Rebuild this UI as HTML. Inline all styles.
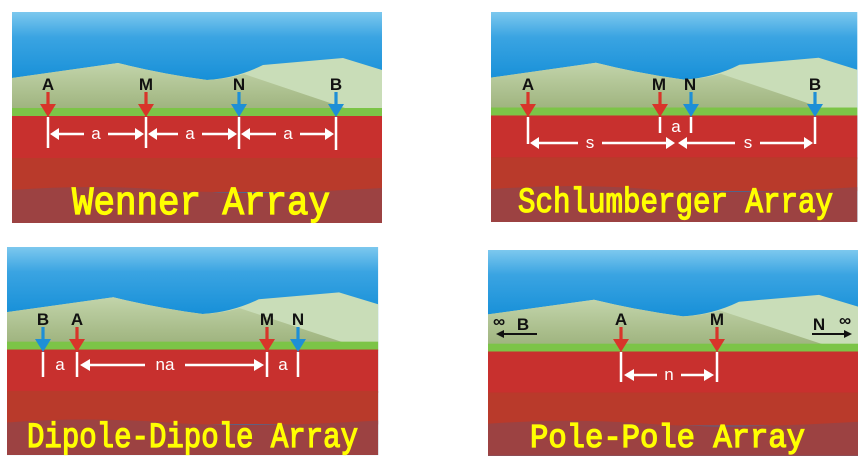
<!DOCTYPE html>
<html><head><meta charset="utf-8"><style>
html,body{margin:0;padding:0;background:#fff;}
svg{display:block;}
.lbl{font-family:"Liberation Sans",sans-serif;font-weight:bold;font-size:17px;fill:#111;text-anchor:middle;}
.dim{font-family:"Liberation Sans",sans-serif;font-size:17px;fill:#fff;text-anchor:middle;}
.title{font-family:"Liberation Mono",monospace;fill:#ffff00;stroke:#ffff00;stroke-width:1.3px;}
</style></head><body>
<svg width="865" height="465" viewBox="0 0 865 465" xmlns="http://www.w3.org/2000/svg">
<defs>
<linearGradient id="sky" x1="0" y1="0" x2="0" y2="1">
<stop offset="0" stop-color="#7cc8ee"/><stop offset="0.12" stop-color="#3aa4e2"/><stop offset="0.4" stop-color="#0a88d4"/><stop offset="1" stop-color="#0a86d2"/>
</linearGradient>
<linearGradient id="dg" x1="0" y1="0" x2="0" y2="1">
<stop offset="0" stop-color="#c2d4aa"/><stop offset="1" stop-color="#9db27c"/>
</linearGradient>
<g id="bg">
<rect x="0" y="0" width="370" height="211" fill="url(#sky)"/>
<path d="M0,66 L106,51 Q150,62 195,68 Q225,66 251,53 L331,46 L370,58 L370,105 L0,105 Z" fill="#c9ddb8"/>
<path d="M0,66 L106,51 Q150,62 195,68 Q215,67 232,62 L345,100 L0,100 Z" fill="url(#dg)"/>
<rect x="0" y="96" width="370" height="9" fill="#7cc447"/>
<rect x="0" y="104" width="370" height="44" fill="#c8302e"/>
<rect x="0" y="146" width="370" height="34" fill="#b93a2b"/>
<path d="M0,178 Q80,172 160,178 T370,176 L370,211 L0,211 Z" fill="#9c4242"/>
</g>
<g id="ar"><rect x="-1.6" y="0" width="3.2" height="13" /><path d="M-8,12 L8,12 L0,25 Z"/></g>
</defs>

<!-- Panel 1 -->
<use href="#bg" transform="translate(12,12)"/>
<text class="lbl" x="48" y="90">A</text><text class="lbl" x="146" y="90">M</text><text class="lbl" x="239" y="90">N</text><text class="lbl" x="336" y="90">B</text>
<use href="#ar" x="48" y="92" fill="#d8352a"/><use href="#ar" x="146" y="92" fill="#d8352a"/><use href="#ar" x="239" y="92" fill="#1e8fd6"/><use href="#ar" x="336" y="92" fill="#1e8fd6"/>
<g stroke="#fff" stroke-width="2.5"><line x1="48" y1="117" x2="48" y2="148"/><line x1="146" y1="117" x2="146" y2="148"/><line x1="239" y1="117" x2="239" y2="149"/><line x1="336" y1="117" x2="336" y2="150"/>
<line x1="56" y1="134" x2="84" y2="134"/><line x1="108" y1="134" x2="138" y2="134"/>
<line x1="154" y1="134" x2="178" y2="134"/><line x1="202" y1="134" x2="231" y2="134"/>
<line x1="247" y1="134" x2="276" y2="134"/><line x1="300" y1="134" x2="328" y2="134"/></g>
<g fill="#fff"><path d="M50,134 l9,-6 v12z"/><path d="M144,134 l-9,-6 v12z"/><path d="M148,134 l9,-6 v12z"/><path d="M237,134 l-9,-6 v12z"/><path d="M241,134 l9,-6 v12z"/><path d="M334,134 l-9,-6 v12z"/></g>
<text class="dim" x="96" y="139">a</text><text class="dim" x="190" y="139">a</text><text class="dim" x="288" y="139">a</text>
<text class="title" x="72" y="214" font-size="40" textLength="258" lengthAdjust="spacingAndGlyphs">Wenner Array</text>

<!-- Panel 2 -->
<use href="#bg" transform="translate(491,12) scale(0.99,0.995)"/>
<text class="lbl" x="528" y="90">A</text><text class="lbl" x="659" y="90">M</text><text class="lbl" x="690" y="90">N</text><text class="lbl" x="815" y="90">B</text>
<use href="#ar" x="528" y="92" fill="#d8352a"/><use href="#ar" x="660" y="92" fill="#d8352a"/><use href="#ar" x="691" y="92" fill="#1e8fd6"/><use href="#ar" x="815" y="92" fill="#1e8fd6"/>
<g stroke="#fff" stroke-width="2.5"><line x1="528" y1="117" x2="528" y2="144"/><line x1="660" y1="117" x2="660" y2="133"/><line x1="691" y1="117" x2="691" y2="133"/><line x1="815" y1="117" x2="815" y2="144"/>
<line x1="536" y1="143" x2="578" y2="143"/><line x1="602" y1="143" x2="668" y2="143"/>
<line x1="686" y1="143" x2="735" y2="143"/><line x1="760" y1="143" x2="807" y2="143"/></g>
<g fill="#fff"><path d="M530,143 l9,-6 v12z"/><path d="M675,143 l-9,-6 v12z"/><path d="M678,143 l9,-6 v12z"/><path d="M813,143 l-9,-6 v12z"/></g>
<text class="dim" x="676" y="132">a</text><text class="dim" x="590" y="148">s</text><text class="dim" x="748" y="148">s</text>
<text class="title" x="518" y="212" font-size="35" textLength="315" lengthAdjust="spacingAndGlyphs">Schlumberger Array</text>

<!-- Panel 3 -->
<use href="#bg" transform="translate(7,247) scale(1.003,0.986)"/>
<text class="lbl" x="43" y="325">B</text><text class="lbl" x="77" y="325">A</text><text class="lbl" x="267" y="325">M</text><text class="lbl" x="298" y="325">N</text>
<use href="#ar" x="43" y="327" fill="#1e8fd6"/><use href="#ar" x="77" y="327" fill="#d8352a"/><use href="#ar" x="267" y="327" fill="#d8352a"/><use href="#ar" x="298" y="327" fill="#1e8fd6"/>
<g stroke="#fff" stroke-width="2.5"><line x1="43" y1="352" x2="43" y2="377"/><line x1="77" y1="352" x2="77" y2="377"/><line x1="267" y1="352" x2="267" y2="377"/><line x1="298" y1="352" x2="298" y2="377"/>
<line x1="85" y1="365" x2="145" y2="365"/><line x1="185" y1="365" x2="259" y2="365"/></g>
<g fill="#fff"><path d="M80,365 l10,-6 v12z"/><path d="M264,365 l-10,-6 v12z"/></g>
<text class="dim" x="60" y="370">a</text><text class="dim" x="165" y="370">na</text><text class="dim" x="283" y="370">a</text>
<text class="title" x="27" y="447" font-size="35" textLength="331" lengthAdjust="spacingAndGlyphs">Dipole-Dipole Array</text>

<!-- Panel 4 -->
<use href="#bg" transform="translate(488,250) scale(1,0.976)"/>
<text class="lbl" x="621" y="325">A</text><text class="lbl" x="717" y="325">M</text>
<use href="#ar" x="621" y="327" fill="#d8352a"/><use href="#ar" x="717" y="327" fill="#d8352a"/>
<text class="lbl" x="499" y="327" font-size="19">∞</text><text class="lbl" x="523" y="330">B</text>
<text class="lbl" x="819" y="330">N</text><text class="lbl" x="845" y="326" font-size="19">∞</text>
<g stroke="#111" stroke-width="2"><line x1="502" y1="334" x2="537" y2="334"/><line x1="812" y1="334" x2="845" y2="334"/></g>
<g fill="#111"><path d="M496,334 l8,-4 v8z"/><path d="M852,334 l-8,-4 v8z"/></g>
<g stroke="#fff" stroke-width="2.5"><line x1="621" y1="352" x2="621" y2="382"/><line x1="717" y1="352" x2="717" y2="382"/>
<line x1="629" y1="375" x2="657" y2="375"/><line x1="681" y1="375" x2="709" y2="375"/></g>
<g fill="#fff"><path d="M624,375 l10,-6 v12z"/><path d="M714,375 l-10,-6 v12z"/></g>
<text class="dim" x="669" y="380">n</text>
<text class="title" x="530" y="447" font-size="33" textLength="275" lengthAdjust="spacingAndGlyphs">Pole-Pole Array</text>
</svg>
</body></html>
